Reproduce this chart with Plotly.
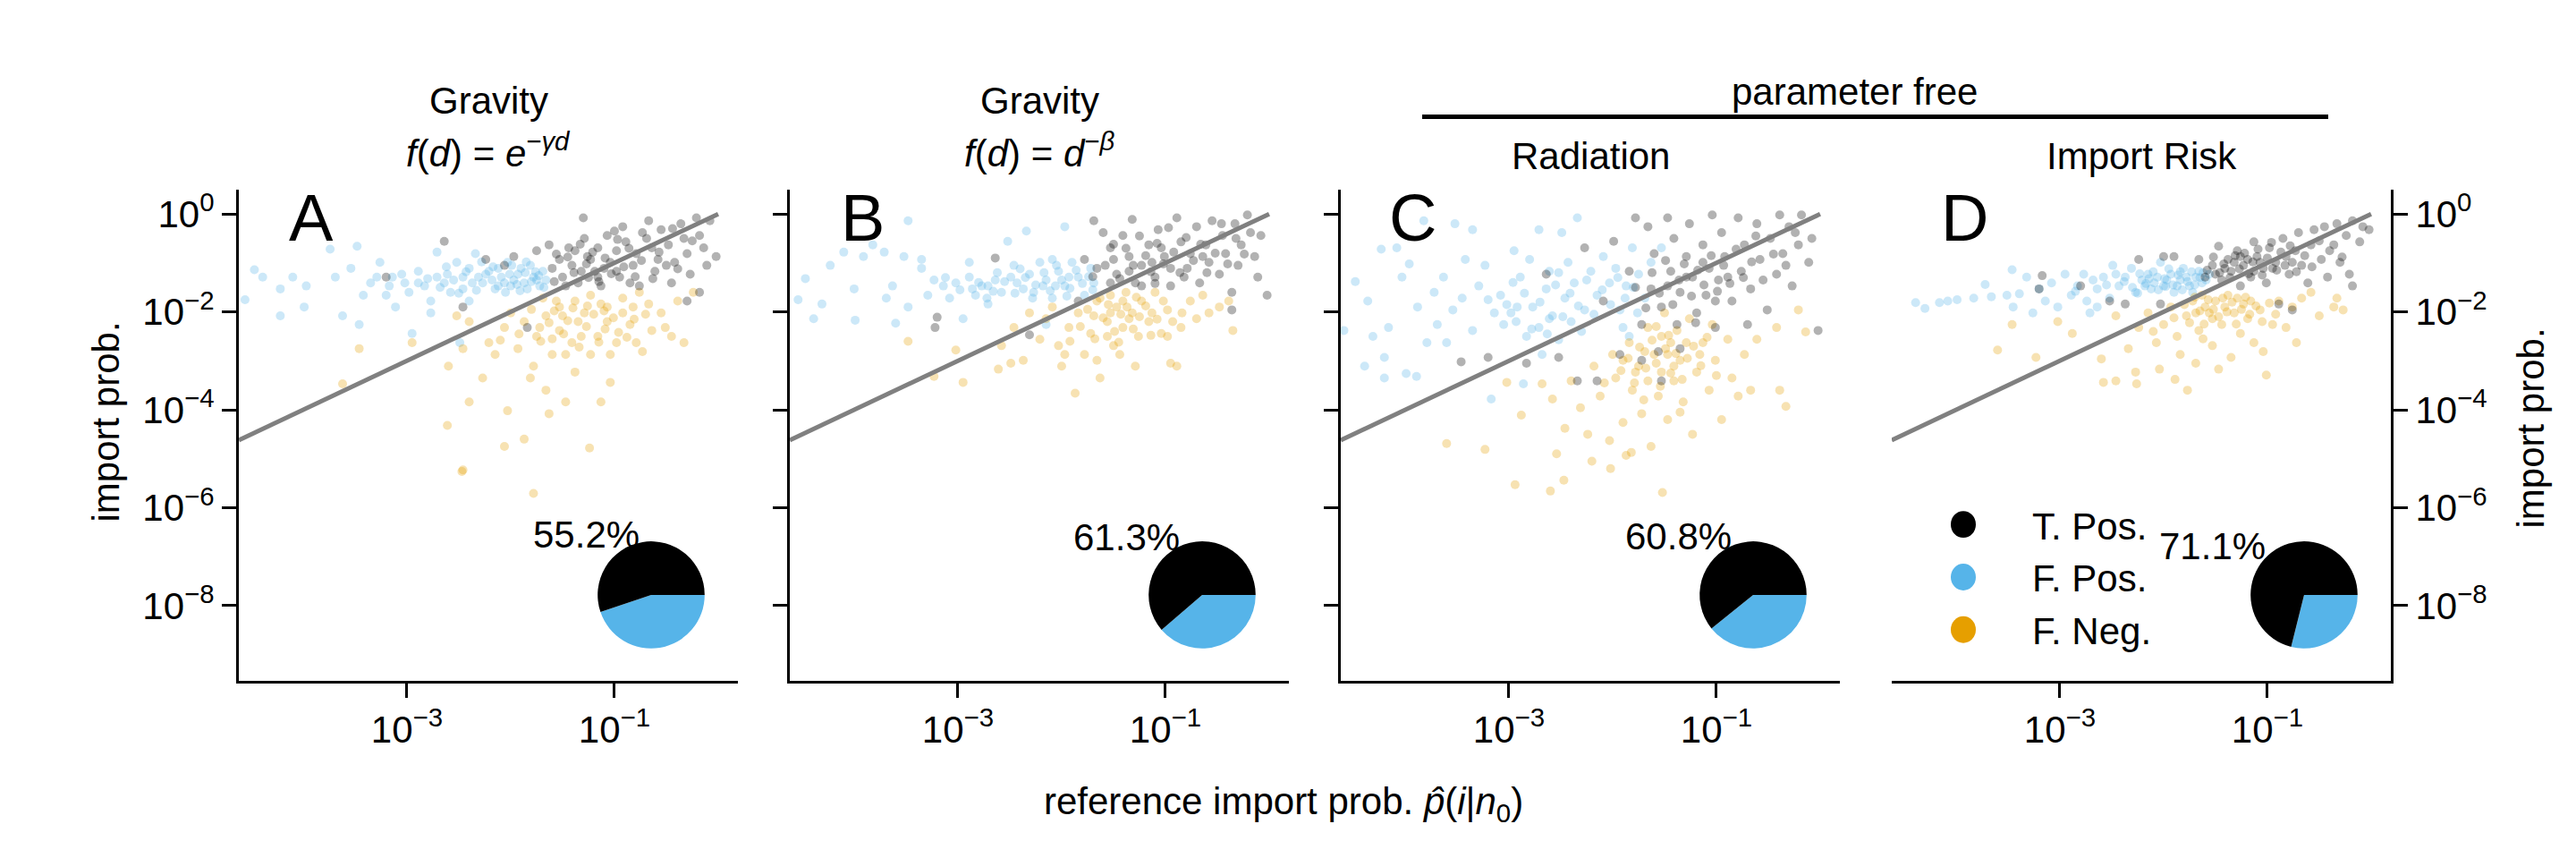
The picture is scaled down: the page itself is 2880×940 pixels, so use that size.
import math
import plotly.graph_objects as go

# ==========================================
# DATA (log10 values)
# ==========================================
X_LOG_RANGE = [-4.62, 0.19]
Y_LOG_RANGE = [-9.53, 0.49]

PANEL_LETTERS = ["A", "B", "C", "D"]
TITLE_LINE1 = ["Gravity", "Gravity", "", ""]
TITLE_LINE2 = [
    "<i>f</i>(<i>d</i>) = <i>e</i><sup>−<i>γd</i></sup>",
    "<i>f</i>(<i>d</i>) = <i>d</i><sup>−<i>β</i></sup>",
    "Radiation",
    "Import Risk",
]
GROUP_LABEL = "parameter free"
TP_SHARE = [55.2, 61.3, 60.8, 71.1]  # % true positives shown in the pies

CATEGORIES = ["T. Pos.", "F. Pos.", "F. Neg."]
COLORS = {"T. Pos.": "#000000", "F. Pos.": "#56B4E9", "F. Neg.": "#E69F00"}

X_TICKS = [-3, -1]
Y_TICKS = [0, -2, -4, -6, -8]
REF_LINE_LOG = [X_LOG_RANGE[0], 0.0]   # y = x reference

X_TITLE = "reference import prob. <i>p̂</i>(<i>i</i>|<i>n</i><sub>0</sub>)"
Y_TITLE = "import prob."

# (log10 reference prob, log10 model prob)
A_FP = [(-4.56, -1.75), (-4.47, -1.14), (-4.39, -1.29), (-4.22, -2.08), (-4.22, -1.53), (-4.10, -1.29),
        (-3.99, -1.90), (-3.97, -1.47), (-3.74, -0.72), (-3.69, -1.29), (-3.62, -2.08), (-3.54, -1.11),
        (-3.48, -0.66), (-3.46, -2.26), (-3.35, -1.41), (-3.26, -0.99), (-3.20, -1.66), (-3.14, -1.29),
        (-3.11, -1.90), (-2.98, -1.60), (-2.95, -2.44), (-2.89, -1.17), (-2.83, -1.47), (-2.77, -1.78),
        (-2.71, -0.78), (-2.64, -1.41), (-2.58, -1.60), (-2.52, -0.99), (-2.46, -1.29), (-2.40, -1.78),
        (-2.34, -0.81), (-2.27, -1.41), (-2.21, -1.17), (-2.15, -1.53), (-2.09, -1.29), (-2.03, -0.99),
        (-2.00, -1.47), (-1.93, -1.23), (-1.87, -1.41), (-1.81, -1.05), (-1.78, -1.29), (-1.72, -1.47),
        (-1.69, -1.17), (-1.66, -1.35), (-2.77, -2.02), (-2.49, -2.63), (-2.71, -1.29), (-2.61, -1.23),
        (-2.46, -1.53), (-2.31, -1.29), (-2.18, -1.35), (-2.06, -1.41), (-1.97, -1.35), (-1.90, -1.11),
        (-1.84, -1.53), (-1.75, -1.35), (-2.89, -1.41), (-3.02, -1.41), (-3.17, -1.47), (-3.29, -1.29),
        (-3.42, -1.66), (-2.40, -1.11), (-2.12, -1.11),
        (-2.55, -1.35), (-2.37, -1.41), (-2.24, -1.23), (-2.12, -1.47), (-2.01, -1.23), (-1.94, -1.44),
        (-1.86, -1.20), (-1.80, -1.38), (-1.73, -1.26), (-1.68, -1.50), (-2.68, -1.50), (-2.80, -1.32),
        (-2.33, -1.56), (-2.05, -1.60), (-1.91, -1.57), (-2.43, -1.18), (-2.17, -1.08), (-1.99, -1.05),
        (-2.62, -1.08), (-3.05, -1.23), (-2.50, -1.62), (-1.76, -1.18), (-1.85, -0.98), (-2.28, -0.98)]
A_TP = [(-2.64, -0.56), (-1.30, -0.08), (-2.24, -0.93), (-3.20, -1.29), (-2.46, -1.90), (-1.84, -2.32),
        (-1.75, -0.75), (-1.63, -0.63), (-1.53, -0.93), (-1.50, -1.29), (-1.44, -0.69), (-1.41, -1.05),
        (-1.35, -1.41), (-1.29, -0.50), (-1.26, -0.87), (-1.19, -1.17), (-1.16, -0.69), (-1.13, -1.47),
        (-1.07, -0.44), (-1.04, -0.99), (-0.98, -0.75), (-0.95, -1.29), (-0.92, -0.26), (-0.89, -0.57),
        (-0.82, -1.05), (-0.79, -0.81), (-0.76, -1.47), (-0.73, -0.38), (-0.67, -0.14), (-0.64, -0.69),
        (-0.61, -1.17), (-0.58, -0.93), (-0.55, -0.32), (-0.48, -0.63), (-0.45, -1.41), (-0.42, -0.99),
        (-0.36, -0.20), (-0.33, -0.50), (-0.30, -0.81), (-0.27, -1.23), (-0.21, -0.08), (-0.18, -0.44),
        (-0.14, -0.69), (-0.11, -1.05), (-0.08, -0.14), (-0.02, -0.87), (-0.18, -1.60), (-0.30, -1.78),
        (-1.23, -0.93), (-1.10, -1.11), (-1.32, -1.17), (-1.47, -1.47), (-1.60, -1.11), (-0.98, -1.17),
        (-0.85, -1.41), (-1.38, -0.75), (-1.16, -1.29), (-1.97, -0.87), (-2.06, -1.05),
        (-1.45, -0.88), (-1.39, -1.20), (-1.33, -0.62), (-1.27, -1.02), (-1.21, -0.78), (-1.15, -1.38),
        (-1.09, -0.90), (-1.03, -1.22), (-0.97, -0.52), (-0.91, -1.08), (-0.86, -0.70), (-0.80, -1.28),
        (-0.74, -0.95), (-0.69, -0.50), (-0.63, -1.32), (-0.57, -0.78), (-0.50, -1.05), (-0.44, -0.30),
        (-0.39, -1.12), (-0.25, -0.55), (-1.56, -0.82), (-1.58, -1.38), (-1.25, -1.30), (-1.00, -0.35)]
A_FN = [(-1.69, -1.72), (-1.53, -1.90), (-1.38, -1.78), (-1.23, -1.66), (-1.07, -1.90), (-0.92, -1.72),
        (-0.76, -1.60), (-0.67, -1.84), (-0.55, -2.02), (-0.39, -1.78), (-0.24, -1.60), (-0.33, -2.63),
        (-0.45, -2.50), (-0.64, -2.38), (-0.73, -2.81), (-0.85, -2.26), (-0.98, -2.63), (-1.07, -2.20),
        (-1.16, -2.50), (-1.23, -2.87), (-1.35, -2.20), (-1.41, -2.63), (-1.53, -2.38), (-1.60, -2.87),
        (-1.66, -2.08), (-1.75, -2.50), (-1.78, -3.11), (-1.87, -2.20), (-1.93, -2.75), (-2.00, -2.02),
        (-2.06, -2.32), (-2.15, -2.87), (-2.21, -2.63), (-2.27, -3.35), (-2.40, -2.20), (-2.46, -2.75),
        (-2.52, -2.08), (-2.60, -3.11), (-2.40, -3.84), (-2.03, -4.02), (-2.61, -4.32), (-2.06, -4.75),
        (-1.87, -4.60), (-1.24, -4.78), (-2.46, -5.23), (-1.47, -3.84), (-1.13, -3.84), (-1.63, -4.08),
        (-1.66, -3.60), (-1.04, -3.44), (-1.38, -3.23), (-1.81, -3.35), (-2.95, -2.63), (-3.46, -2.75),
        (-3.62, -3.47), (-1.29, -2.02), (-1.50, -2.08), (-0.92, -2.02), (-1.13, -1.84), (-1.56, -1.78),
        (-0.82, -1.90), (-0.51, -2.32), (-0.79, -2.63), (-1.32, -2.50), (-1.72, -2.32), (-1.04, -2.87),
        (-1.47, -2.87), (-2.47, -5.26), (-1.78, -5.71),
        (-1.80, -1.95), (-1.71, -2.60), (-1.63, -2.22), (-1.58, -1.98), (-1.49, -2.45), (-1.45, -2.18),
        (-1.40, -1.92), (-1.34, -2.72), (-1.27, -2.30), (-1.20, -2.05), (-1.15, -2.62), (-1.09, -2.35),
        (-1.01, -2.12), (-0.96, -2.42), (-0.88, -2.52), (-0.81, -2.15), (-0.70, -2.05), (-1.92, -2.45),
        (-2.10, -2.58), (-1.26, -1.88), (-1.60, -2.55), (-1.10, -1.98)]

B_FP = [(-4.54, -1.75), (-4.47, -1.32), (-4.39, -2.14), (-4.31, -1.84), (-4.23, -1.05), (-4.10, -0.78),
        (-4.00, -1.53), (-3.99, -2.17), (-3.91, -0.87), (-3.82, -0.63), (-3.71, -0.78), (-3.69, -1.72),
        (-3.63, -1.47), (-3.60, -2.23), (-3.52, -0.87), (-3.48, -0.14), (-3.48, -1.90), (-3.35, -0.93),
        (-3.35, -1.11), (-3.29, -1.66), (-3.23, -1.35), (-3.14, -1.47), (-3.08, -1.72), (-3.02, -1.41),
        (-2.95, -2.14), (-2.89, -1.29), (-2.83, -1.66), (-2.77, -1.47), (-2.71, -1.84), (-2.64, -1.35),
        (-2.58, -1.60), (-2.52, -0.56), (-2.46, -1.05), (-2.43, -1.41), (-2.34, -0.35), (-2.31, -1.23),
        (-2.27, -1.60), (-2.21, -0.99), (-2.15, -1.35), (-2.09, -1.72), (-2.03, -1.17), (-1.97, -0.26),
        (-1.97, -1.47), (-1.90, -0.99), (-1.84, -1.29), (-1.78, -1.66), (-1.72, -1.11), (-1.69, -1.41),
        (-1.93, -1.29), (-2.06, -1.47), (-2.18, -1.47), (-2.37, -1.53), (-2.49, -1.29), (-2.71, -1.47),
        (-2.86, -1.53), (-2.15, -2.26), (-2.09, -0.93), (-2.89, -0.99),
        (-2.98, -1.55), (-2.80, -1.40), (-2.66, -1.58), (-2.55, -1.38), (-2.45, -1.62), (-2.35, -1.30),
        (-2.25, -1.45), (-2.17, -1.20), (-2.11, -1.57), (-2.00, -1.35), (-1.92, -1.52), (-1.86, -1.15),
        (-1.80, -1.42), (-1.74, -1.28), (-1.70, -1.55), (-2.40, -1.12), (-2.62, -1.20), (-2.05, -1.05),
        (-1.95, -1.68), (-2.28, -1.72), (-3.12, -1.30), (-2.72, -1.72)]
B_TP = [(-3.22, -2.32), (-3.20, -2.11), (-2.64, -0.90), (-2.31, -2.47), (-1.69, -0.14), (-1.60, -0.38),
        (-1.78, -0.93), (-1.66, -1.11), (-1.53, -0.69), (-1.47, -1.23), (-1.41, -0.44), (-1.35, -0.87),
        (-1.29, -1.41), (-1.32, -0.11), (-1.23, -1.05), (-1.16, -0.63), (-1.10, -1.29), (-1.07, -0.32),
        (-1.01, -0.87), (-0.95, -1.47), (-0.89, -0.08), (-0.85, -0.57), (-0.79, -1.11), (-0.76, -0.81),
        (-0.70, -0.26), (-0.67, -1.41), (-0.61, -0.63), (-0.58, -0.99), (-0.55, -0.14), (-0.48, -1.23),
        (-0.45, -0.44), (-0.42, -0.81), (-0.36, -1.60), (-0.33, -0.20), (-0.30, -1.05), (-0.27, -0.63),
        (-0.21, -0.02), (-0.18, -0.38), (-0.14, -0.87), (-0.11, -1.29), (-0.08, -0.44), (-0.02, -1.66),
        (-0.36, -1.96), (-1.23, -1.47), (-1.13, -0.99), (-1.35, -1.17), (-1.53, -1.41), (-0.95, -1.11),
        (-0.82, -1.29), (-1.50, -0.93), (-1.84, -1.78), (-1.04, -0.69), (-0.64, -0.87),
        (-1.58, -1.05), (-1.50, -0.62), (-1.44, -1.32), (-1.38, -0.70), (-1.31, -1.05), (-1.25, -0.45),
        (-1.19, -0.85), (-1.14, -1.18), (-1.08, -0.60), (-1.02, -1.02), (-0.97, -0.28), (-0.92, -0.78),
        (-0.86, -1.20), (-0.80, -0.48), (-0.73, -0.95), (-0.66, -0.62), (-0.60, -1.20), (-0.52, -0.80),
        (-0.46, -0.20), (-0.40, -1.02), (-0.32, -0.50), (-0.24, -0.82), (-1.70, -1.28), (-1.10, -1.42)]
B_FN = [(-3.48, -2.60), (-3.02, -2.78), (-2.95, -3.44), (-3.23, -3.32), (-2.61, -3.17), (-2.58, -2.69),
        (-2.49, -3.05), (-2.46, -2.32), (-2.37, -2.99), (-2.31, -2.02), (-2.21, -2.56), (-2.15, -2.14),
        (-2.09, -1.90), (-2.03, -2.69), (-2.00, -3.11), (-1.93, -2.32), (-1.87, -3.66), (-1.84, -2.02),
        (-1.78, -2.87), (-1.72, -2.44), (-1.66, -1.78), (-1.63, -3.35), (-1.56, -2.20), (-1.53, -1.66),
        (-1.50, -2.69), (-1.47, -1.90), (-1.41, -2.32), (-1.38, -1.60), (-1.32, -2.02), (-1.29, -3.11),
        (-1.26, -2.50), (-1.23, -1.78), (-1.16, -2.20), (-1.10, -1.60), (-1.04, -2.44), (-0.98, -1.96),
        (-0.95, -3.05), (-0.89, -3.11), (-0.85, -2.32), (-0.76, -1.78), (-0.70, -2.14), (-0.64, -1.66),
        (-0.58, -2.02), (-0.48, -1.90), (-0.39, -1.78), (-0.35, -2.38), (-1.66, -2.99), (-1.44, -2.87),
        (-1.69, -2.08), (-1.35, -2.14), (-1.53, -2.02), (-1.13, -2.02), (-1.41, -1.78), (-1.56, -2.50),
        (-1.97, -2.87), (-0.98, -2.50),
        (-1.82, -2.30), (-1.75, -1.95), (-1.68, -2.55), (-1.60, -2.12), (-1.55, -1.85), (-1.49, -2.40),
        (-1.43, -2.05), (-1.37, -1.90), (-1.31, -2.35), (-1.25, -2.10), (-1.19, -1.88), (-1.14, -2.48),
        (-1.08, -2.15), (-1.02, -1.78), (-0.93, -2.20), (-0.84, -2.02), (-1.45, -2.62), (-1.63, -1.72),
        (-1.92, -2.60), (-1.28, -1.70)]

C_FP = [(-4.59, -2.38), (-4.48, -1.38), (-4.39, -3.11), (-4.36, -1.78), (-4.31, -2.50), (-4.23, -0.72),
        (-4.20, -2.93), (-4.20, -3.35), (-4.16, -2.32), (-4.08, -0.69), (-4.03, -1.29), (-3.99, -3.26),
        (-3.96, -1.02), (-3.89, -3.32), (-3.88, -1.90), (-3.82, -0.14), (-3.79, -2.63), (-3.72, -1.60),
        (-3.69, -2.26), (-3.63, -1.29), (-3.60, -2.63), (-3.54, -1.96), (-3.52, -0.20), (-3.45, -1.72),
        (-3.42, -0.93), (-3.35, -0.32), (-3.35, -2.38), (-3.29, -1.47), (-3.23, -1.05), (-3.17, -3.78),
        (-3.14, -2.02), (-3.08, -1.66), (-3.05, -2.26), (-2.98, -2.02), (-2.95, -0.75), (-2.89, -1.29),
        (-2.86, -3.47), (-2.83, -2.50), (-2.80, -0.93), (-2.77, -1.90), (-2.71, -0.32), (-2.71, -2.32),
        (-2.64, -1.53), (-2.61, -1.17), (-2.58, -2.08), (-2.52, -2.57), (-2.49, -0.38), (-2.46, -1.72),
        (-2.43, -0.99), (-2.37, -1.41), (-2.34, -0.08), (-2.27, -1.96), (-2.21, -1.17), (-2.15, -1.66),
        (-2.09, -0.87), (-2.03, -1.41), (-1.97, -1.11), (-1.93, -1.96), (-1.87, -1.47), (-1.81, -0.69),
        (-1.75, -1.23), (-1.69, -1.72), (-1.63, -0.99), (-1.53, -0.69), (-2.92, -1.90), (-2.61, -2.14),
        (-2.40, -2.20), (-1.90, -2.32), (-1.84, -2.50), (-2.68, -2.87),
        (-3.02, -1.85), (-2.93, -2.20), (-2.85, -1.62), (-2.78, -2.35), (-2.70, -1.80), (-2.63, -2.45),
        (-2.55, -1.45), (-2.48, -2.10), (-2.41, -1.62), (-2.33, -1.88), (-2.25, -1.35), (-2.18, -2.05),
        (-2.10, -1.55), (-2.02, -1.85), (-1.95, -1.30), (-1.88, -1.72), (-1.80, -1.50), (-1.76, -2.02),
        (-2.52, -1.20), (-2.96, -1.40), (-3.20, -1.75), (-2.30, -2.40)]
C_TP = [(-3.46, -3.02), (-3.20, -2.93), (-2.83, -3.05), (-2.64, -1.23), (-2.52, -2.93), (-2.34, -3.41),
        (-2.27, -0.69), (-2.15, -3.41), (-2.09, -1.78), (-1.99, -0.56), (-1.93, -2.87), (-1.84, -1.17),
        (-1.78, -0.08), (-1.72, -2.26), (-1.66, -0.26), (-1.63, -1.53), (-1.60, -0.81), (-1.56, -2.81),
        (-1.53, -1.90), (-1.47, -0.08), (-1.44, -1.17), (-1.41, -0.50), (-1.38, -2.26), (-1.35, -1.60),
        (-1.29, -0.87), (-1.26, -0.20), (-1.23, -1.29), (-1.19, -2.02), (-1.13, -0.63), (-1.10, -1.66),
        (-1.07, -1.11), (-1.04, -0.02), (-1.01, -2.32), (-0.98, -1.35), (-0.95, -0.38), (-0.92, -0.87),
        (-0.85, -1.78), (-0.79, -0.08), (-0.76, -1.17), (-0.73, -0.63), (-0.67, -1.53), (-0.61, -0.20),
        (-0.58, -0.93), (-0.51, -1.96), (-0.48, -0.50), (-0.42, -1.23), (-0.39, -0.02), (-0.36, -0.81),
        (-0.30, -0.26), (-0.27, -1.47), (-0.21, -0.63), (-0.18, -0.02), (-0.11, -0.99), (-0.08, -0.50),
        (-0.02, -2.38), (-0.70, -2.26), (-1.29, -1.29), (-1.13, -0.99), (-1.01, -1.78), (-1.47, -1.47),
        (-0.89, -1.29), (-1.72, -2.99), (-1.53, -3.41), (-1.35, -2.75),
        (-1.62, -1.20), (-1.55, -1.62), (-1.49, -0.95), (-1.42, -1.85), (-1.36, -1.35), (-1.31, -1.02),
        (-1.24, -1.68), (-1.18, -1.15), (-1.12, -1.45), (-1.05, -0.85), (-0.99, -1.58), (-0.93, -1.05),
        (-0.87, -1.42), (-0.81, -0.72), (-0.74, -1.30), (-0.66, -0.98), (-0.55, -1.35), (-0.45, -0.82),
        (-0.33, -1.05), (-0.24, -0.38), (-1.78, -1.50), (-1.68, -1.92), (-1.20, -2.22), (-0.62, -0.45)]
C_FN = [(-3.60, -4.69), (-3.23, -4.81), (-3.02, -3.44), (-2.94, -5.53), (-2.88, -4.11), (-2.68, -3.47),
        (-2.60, -5.66), (-2.58, -3.78), (-2.54, -4.90), (-2.47, -5.44), (-2.46, -4.38), (-2.40, -3.41),
        (-2.31, -3.96), (-2.24, -4.50), (-2.18, -3.11), (-2.12, -3.72), (-2.03, -4.63), (-2.00, -2.87),
        (-1.97, -3.35), (-1.90, -4.26), (-1.87, -4.93), (-1.84, -2.63), (-1.81, -3.60), (-1.75, -3.11),
        (-1.72, -4.08), (-1.66, -2.32), (-1.63, -4.75), (-1.60, -2.87), (-1.56, -3.72), (-1.53, -3.23),
        (-1.52, -5.69), (-1.50, -2.02), (-1.47, -4.20), (-1.44, -2.63), (-1.41, -3.41), (-1.38, -2.38),
        (-1.35, -2.99), (-1.32, -3.84), (-1.26, -2.14), (-1.23, -4.50), (-1.19, -3.23), (-1.13, -2.63),
        (-1.07, -3.60), (-1.04, -2.26), (-1.01, -2.99), (-0.95, -4.20), (-0.89, -2.56), (-0.85, -3.35),
        (-0.79, -3.72), (-0.73, -2.87), (-0.67, -3.60), (-0.61, -2.56), (-0.42, -2.32), (-0.39, -3.60),
        (-0.33, -3.93), (-0.21, -1.96), (-0.14, -2.41), (-1.69, -2.81), (-1.53, -2.50), (-1.78, -3.23),
        (-1.29, -2.63), (-1.41, -3.11), (-1.66, -3.41), (-1.47, -2.87), (-1.90, -2.99), (-1.16, -2.87),
        (-2.02, -5.20), (-1.82, -4.87), (-2.20, -5.05),
        (-1.92, -3.20), (-1.85, -2.95), (-1.79, -3.45), (-1.74, -2.72), (-1.68, -3.15), (-1.62, -2.58),
        (-1.58, -3.05), (-1.54, -3.52), (-1.49, -2.75), (-1.44, -3.25), (-1.39, -2.85), (-1.33, -3.38),
        (-1.28, -2.95), (-1.22, -2.70), (-1.15, -3.10), (-1.09, -2.52), (-1.00, -3.30), (-1.58, -2.30),
        (-1.70, -3.80), (-1.35, -4.05), (-2.08, -3.45), (-1.46, -2.48)]

D_FP = [(-4.39, -1.81), (-4.30, -1.93), (-4.16, -1.81), (-4.08, -1.78), (-3.99, -1.75), (-3.83, -1.72),
        (-3.72, -1.44), (-3.66, -1.69), (-3.51, -1.66), (-3.46, -1.14), (-3.45, -1.90), (-3.39, -1.63),
        (-3.32, -1.29), (-3.26, -2.02), (-3.20, -1.53), (-3.14, -1.78), (-3.08, -1.41), (-3.02, -1.90),
        (-2.95, -1.23), (-2.89, -1.66), (-2.83, -1.47), (-2.77, -1.23), (-2.74, -1.78), (-2.71, -2.02),
        (-2.64, -1.53), (-2.58, -1.29), (-2.52, -1.72), (-2.49, -1.05), (-2.43, -1.47), (-2.37, -1.29),
        (-2.31, -1.11), (-2.27, -1.60), (-2.21, -1.35), (-2.15, -1.23), (-2.12, -1.53), (-2.06, -1.29),
        (-2.03, -0.99), (-2.00, -1.47), (-1.93, -1.23), (-1.90, -1.60), (-1.84, -1.35), (-1.81, -1.11),
        (-1.75, -1.47), (-1.69, -1.29), (-1.63, -1.41), (-1.56, -1.23), (-2.09, -1.41), (-1.97, -1.35),
        (-1.78, -1.29), (-2.18, -1.47), (-1.72, -1.60), (-2.46, -1.23), (-2.64, -1.90), (-1.66, -1.17),
        (-1.87, -1.47),
        (-2.38, -1.38), (-2.30, -1.50), (-2.23, -1.22), (-2.17, -1.42), (-2.10, -1.18), (-2.05, -1.55),
        (-1.99, -1.32), (-1.95, -1.12), (-1.91, -1.45), (-1.86, -1.25), (-1.82, -1.55), (-1.77, -1.38),
        (-1.73, -1.18), (-1.70, -1.45), (-1.65, -1.30), (-1.62, -1.20), (-1.59, -1.35), (-2.55, -1.45),
        (-2.68, -1.35), (-2.85, -1.58), (-2.25, -1.62), (-1.98, -1.48), (-1.84, -1.18), (-2.14, -1.32)]
D_TP = [(-3.17, -1.26), (-3.20, -1.53), (-2.80, -1.47), (-2.52, -1.78), (-2.24, -0.93), (-2.37, -1.84),
        (-2.00, -0.87), (-1.90, -0.87), (-2.03, -1.84), (-1.66, -0.93), (-1.60, -1.29), (-1.53, -1.05),
        (-1.47, -0.66), (-1.44, -1.35), (-1.38, -0.93), (-1.35, -1.17), (-1.29, -0.75), (-1.26, -1.47),
        (-1.23, -1.05), (-1.16, -1.29), (-1.13, -0.57), (-1.10, -0.87), (-1.04, -1.11), (-1.01, -1.41),
        (-0.98, -0.69), (-0.92, -0.99), (-0.89, -1.84), (-0.85, -0.50), (-0.79, -1.23), (-0.76, -1.96),
        (-0.73, -0.75), (-0.70, -0.38), (-0.67, -1.05), (-0.61, -1.41), (-0.58, -0.63), (-0.55, -0.32),
        (-0.48, -0.93), (-0.45, -0.26), (-0.42, -1.29), (-0.36, -0.63), (-0.33, -0.20), (-0.30, -0.99),
        (-0.24, -0.44), (-0.21, -1.23), (-0.18, -0.14), (-0.11, -0.57), (-0.08, -0.26), (-0.02, -0.32),
        (-0.18, -1.47), (-1.19, -0.93), (-1.07, -0.99), (-1.41, -1.11), (-1.32, -0.99), (-0.95, -1.11),
        (-0.82, -0.87), (-1.50, -1.23), (-1.13, -1.17), (-1.26, -0.87), (-0.76, -0.99),
        (-1.58, -1.15), (-1.52, -0.88), (-1.46, -1.20), (-1.42, -1.02), (-1.36, -1.30), (-1.31, -0.85),
        (-1.27, -1.12), (-1.22, -0.80), (-1.18, -1.22), (-1.14, -0.98), (-1.09, -0.72), (-1.05, -1.25),
        (-1.00, -0.90), (-0.96, -0.58), (-0.91, -1.15), (-0.87, -0.78), (-0.83, -1.05), (-0.78, -0.65),
        (-0.72, -1.18), (-0.64, -0.85), (-0.57, -1.08), (-0.50, -0.55), (-0.40, -0.75), (-0.28, -0.88)]
D_FN = [(-3.60, -2.78), (-3.46, -2.26), (-3.23, -2.93), (-3.02, -2.20), (-2.88, -2.44), (-2.60, -2.96),
        (-2.58, -3.44), (-2.46, -3.41), (-2.46, -2.08), (-2.34, -2.75), (-2.27, -3.23), (-2.26, -3.47),
        (-2.24, -2.32), (-2.15, -2.02), (-2.07, -2.63), (-2.04, -3.17), (-2.00, -2.26), (-1.93, -1.90),
        (-1.89, -3.38), (-1.87, -2.50), (-1.84, -2.87), (-1.78, -2.08), (-1.77, -3.60), (-1.72, -1.78),
        (-1.69, -3.05), (-1.66, -2.38), (-1.63, -1.66), (-1.56, -2.02), (-1.53, -2.69), (-1.50, -1.78),
        (-1.47, -3.17), (-1.44, -2.26), (-1.38, -1.66), (-1.35, -2.93), (-1.32, -2.02), (-1.26, -2.44),
        (-1.23, -1.84), (-1.19, -2.14), (-1.13, -2.63), (-1.07, -1.96), (-1.04, -2.81), (-1.01, -3.29),
        (-0.95, -2.26), (-0.89, -1.78), (-0.82, -2.32), (-0.76, -1.90), (-0.72, -2.63), (-0.67, -1.72),
        (-0.58, -1.60), (-0.50, -2.08), (-0.33, -1.72), (-0.27, -1.96), (-0.36, -1.90), (-1.60, -1.90),
        (-1.41, -1.90), (-1.53, -2.14), (-1.29, -1.72), (-1.69, -2.02), (-1.16, -1.78),
        (-1.80, -1.85), (-1.75, -2.22), (-1.70, -1.70), (-1.65, -1.98), (-1.61, -2.25), (-1.57, -1.75),
        (-1.52, -1.95), (-1.47, -2.10), (-1.43, -1.72), (-1.39, -2.00), (-1.34, -1.80), (-1.30, -2.25),
        (-1.25, -1.95), (-1.21, -1.70), (-1.17, -2.05), (-1.11, -1.88), (-1.05, -2.20), (-0.98, -1.82),
        (-1.90, -2.12), (-2.10, -2.40), (-0.92, -2.05), (-1.62, -2.55)]

PANEL_POINTS = [
    {"T. Pos.": A_TP, "F. Pos.": A_FP, "F. Neg.": A_FN},
    {"T. Pos.": B_TP, "F. Pos.": B_FP, "F. Neg.": B_FN},
    {"T. Pos.": C_TP, "F. Pos.": C_FP, "F. Neg.": C_FN},
    {"T. Pos.": D_TP, "F. Pos.": D_FP, "F. Neg.": D_FN},
]

# ==========================================
# LAYOUT (pixels of the 2880x940 page)
# ==========================================
W, H = 2880, 940
PANEL_LEFT = [259, 875, 1491, 2107]
PANEL_W = 558
AX_TOP, AX_BOTTOM = 202, 752
PIE_DX, PIE_CY, PIE_R = 461, 656, 60
FONT = "Liberation Sans, Arial, sans-serif"
FS = 42


def px(x):
    return x / W


def py(y):
    return 1 - y / H


def note(x, y, text, size=FS, xanchor="center", yanchor="middle", angle=0):
    return dict(x=px(x), y=py(y), xref="paper", yref="paper", text=text,
                xanchor=xanchor, yanchor=yanchor, textangle=angle, showarrow=False,
                font=dict(family=FONT, size=size, color="black"))


def sup_label(e):
    return "10<sup>" + (str(e) if e >= 0 else "−" + str(-e)) + "</sup>"


fig = go.Figure()
annotations = []
shapes = []
layout_axes = {}

for i, letter in enumerate(PANEL_LETTERS):
    n = "" if i == 0 else str(i + 1)
    left = PANEL_LEFT[i]
    pts = PANEL_POINTS[i]

    for cat in ["F. Pos.", "F. Neg.", "T. Pos."]:
        fig.add_trace(go.Scatter(
            x=[10 ** p[0] for p in pts[cat]],
            y=[10 ** p[1] for p in pts[cat]],
            mode="markers",
            marker=dict(size=10, color=COLORS[cat], opacity=0.3, line=dict(width=0)),
            xaxis="x" + n, yaxis="y" + n, showlegend=False, hoverinfo="skip",
        ))

    fig.add_trace(go.Scatter(
        x=[10 ** v for v in REF_LINE_LOG], y=[10 ** v for v in REF_LINE_LOG],
        mode="lines", line=dict(color="#808080", width=5),
        xaxis="x" + n, yaxis="y" + n, showlegend=False, hoverinfo="skip",
    ))

    layout_axes["xaxis" + n] = dict(
        type="log", range=X_LOG_RANGE, domain=[px(left), px(left + PANEL_W)],
        anchor="y" + n, showgrid=False, zeroline=False,
        showline=True, linecolor="black", linewidth=3,
        ticks="outside", ticklen=16, tickwidth=3, tickcolor="black",
        tickvals=[10 ** e for e in X_TICKS], ticktext=[sup_label(e) for e in X_TICKS],
        tickfont=dict(family=FONT, size=FS, color="black"),
    )
    layout_axes["yaxis" + n] = dict(
        type="log", range=Y_LOG_RANGE, domain=[py(AX_BOTTOM), py(AX_TOP)],
        anchor="x" + n, side="right" if i == 3 else "left",
        showgrid=False, zeroline=False,
        showline=True, linecolor="black", linewidth=3,
        ticks="outside", ticklen=16, tickwidth=3, tickcolor="black",
        tickvals=[10 ** e for e in Y_TICKS], ticktext=[sup_label(e) for e in Y_TICKS],
        showticklabels=(i in (0, 3)),
        tickfont=dict(family=FONT, size=FS, color="black"),
    )

    # pie of true positives vs false positives (black wedge from 3 o'clock, anticlockwise)
    cx = left + PIE_DX
    share = TP_SHARE[i]
    fig.add_trace(go.Pie(
        values=[100 - share, share], labels=["F. Pos.", "T. Pos."],
        marker=dict(colors=[COLORS["F. Pos."], COLORS["T. Pos."]], line=dict(width=0)),
        sort=False, direction="counterclockwise", rotation=90,
        textinfo="none", hoverinfo="skip", showlegend=False,
        domain=dict(x=[px(cx - PIE_R), px(cx + PIE_R)], y=[py(PIE_CY + PIE_R), py(PIE_CY - PIE_R)]),
    ))
    theta = math.radians(share * 1.8)
    annotations.append(note(cx + 1.1 * PIE_R * math.cos(theta),
                            PIE_CY - 1.1 * PIE_R * math.sin(theta) - 3,
                            f"{share:.1f}%", xanchor="right"))

    # panel letter and titles
    center = left + PANEL_W / 2
    annotations.append(note(left + 81, 233, letter, size=74))
    if TITLE_LINE1[i]:
        annotations.append(note(center, 102, TITLE_LINE1[i]))
    annotations.append(note(center, 158 if "<sup>" in TITLE_LINE2[i] else 164, TITLE_LINE2[i]))

# group header
annotations.append(note(2065, 92, GROUP_LABEL))
shapes.append(dict(type="line", xref="paper", yref="paper",
                   x0=px(1582), x1=px(2595), y0=py(120), y1=py(120),
                   line=dict(color="black", width=5)))

# axis titles
annotations.append(note(1427, 890, X_TITLE))
annotations.append(note(111, 462, Y_TITLE, angle=-90))
annotations.append(note(2822, 469, Y_TITLE, angle=-90))

# legend in panel D
for k, cat in enumerate(CATEGORIES):
    yc = 577 + 59 * k
    shapes.append(dict(type="circle", xref="paper", yref="paper",
                       x0=px(2187 - 14), x1=px(2187 + 14), y0=py(yc + 15), y1=py(yc - 15),
                       fillcolor=COLORS[cat], line=dict(width=0)))
    annotations.append(note(2262, yc + 2, cat, xanchor="left"))

fig.update_layout(
    width=W, height=H, margin=dict(l=0, r=0, t=0, b=0),
    paper_bgcolor="white", plot_bgcolor="white",
    annotations=annotations, shapes=shapes, showlegend=False,
    **layout_axes,
)

fig.write_html("out.html")
